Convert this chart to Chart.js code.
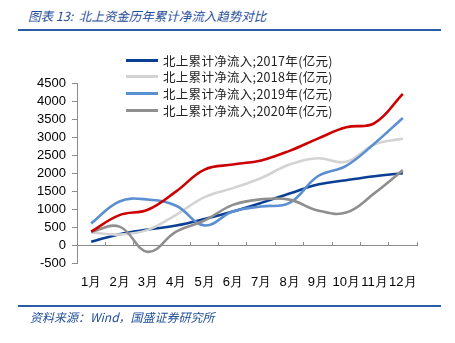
<!DOCTYPE html>
<html><head><meta charset="utf-8">
<script src="https://cdn.jsdelivr.net/npm/chart.js@4/dist/chart.umd.min.js"></script>
<style>
body{margin:0;width:455px;height:343px;background:#fff;position:relative;overflow:hidden;font-family:"Liberation Sans",Arial,sans-serif}
#title{position:absolute;left:28px;top:7px;font:italic 12.5px "Noto Sans CJK SC";color:#1f4e9a;white-space:pre;line-height:18px}
.rule{position:absolute;left:18px;width:423px;height:2px;background:#2a5caa}
#src{position:absolute;left:30px;top:309px;font:italic 12px "Noto Sans CJK SC";color:#1f4e9a;white-space:pre;line-height:16px}
#legend{position:absolute;left:126px;top:52px;z-index:2}
.li{height:16.6px;display:flex;align-items:center;font:12.5px "Noto Sans CJK SC";color:#222;white-space:pre;letter-spacing:0.3px}
.sw{width:32px;height:3px;margin-right:5px}
canvas{position:absolute;left:0;top:0}
</style></head>
<body>
<div id="title">图表 13:  北上资金历年累计净流入趋势对比</div>
<div class="rule" style="top:29px"></div>
<div id="legend"></div>
<canvas id="c" width="455" height="343"></canvas>
<div class="rule" style="top:305px"></div>
<div id="src">资料来源：Wind，国盛证券研究所</div>
<script>
const months = ['1月','2月','3月','4月','5月','6月','7月','8月','9月','10月','11月','12月'];
const seriesLabels = ['北上累计净流入;2017年(亿元)','北上累计净流入;2018年(亿元)','北上累计净流入;2019年(亿元)','北上累计净流入;2020年(亿元)','北上累计净流入;2021年(亿元)'];
const s2017 = [90,300,430,540,720,930,1170,1430,1680,1800,1910,1995];
const s2018 = [350,290,420,840,1330,1580,1860,2235,2410,2310,2790,2955];
const s2019 = [600,1210,1265,1090,545,930,1070,1170,1910,2200,2820,3530];
const s2020 = [370,510,-190,370,680,1115,1270,1260,960,900,1440,2080];
const s2021 = [372,830,980,1490,2095,2235,2350,2615,2955,3270,3385,4200];
const yTicksMin = -500, yTicksMax = 4500, yStep = 500;

const colors = ['#0b3f95','#d3d3d3','#5a8fd2','#8f8f8f','#cc0000'];
const allData = [s2017,s2018,s2019,s2020,s2021];
const legendCount = 4;

const leg = document.getElementById('legend');
for (let i=0;i<legendCount;i++){
  const d=document.createElement('div');d.className='li';
  d.innerHTML='<span class="sw" style="background:'+colors[i]+'"></span>';
  d.appendChild(document.createTextNode(seriesLabels[i]));
  leg.appendChild(d);
}

new Chart(document.getElementById('c'),{
  type:'line',
  data:{labels:months,datasets:allData.map((d,i)=>({label:seriesLabels[i],data:d,borderColor:colors[i],backgroundColor:colors[i],borderWidth:2.6,pointRadius:0,tension:0.4,fill:false,order:allData.length-i}))},
  options:{
    responsive:false,animation:false,
    layout:{padding:{top:83,left:0,right:38,bottom:50}},
    plugins:{legend:{display:false},tooltip:{enabled:false}},
    scales:{
      x:{type:'category',offset:true,position:'bottom',
        grid:{display:false,drawTicks:false},border:{display:false},
        ticks:{color:'#000',font:{family:'Liberation Sans',size:13},padding:12,maxRotation:0,autoSkip:false},
        afterFit:s=>{s.height=30;}},
      x0:{type:'category',labels:months,offset:true,position:{y:0},
        grid:{display:true,offset:true,drawOnChartArea:false,drawTicks:true,tickLength:-4,color:'#8c8c8c'},
        border:{display:true,color:'#8c8c8c',width:1},
        ticks:{display:false},
        afterFit:s=>{s.height=0;}},
      y:{min:yTicksMin,max:yTicksMax,
        ticks:{stepSize:yStep,autoSkip:false,callback:v=>String(v),color:'#000',font:{family:'Liberation Sans',size:13},padding:6},
        grid:{drawOnChartArea:false,drawTicks:true,tickLength:5,color:'#8c8c8c'},
        border:{display:true,color:'#8c8c8c',width:1},
        afterFit:s=>{s.width=77;}}
    }
  }
});
</script>
</body></html>
